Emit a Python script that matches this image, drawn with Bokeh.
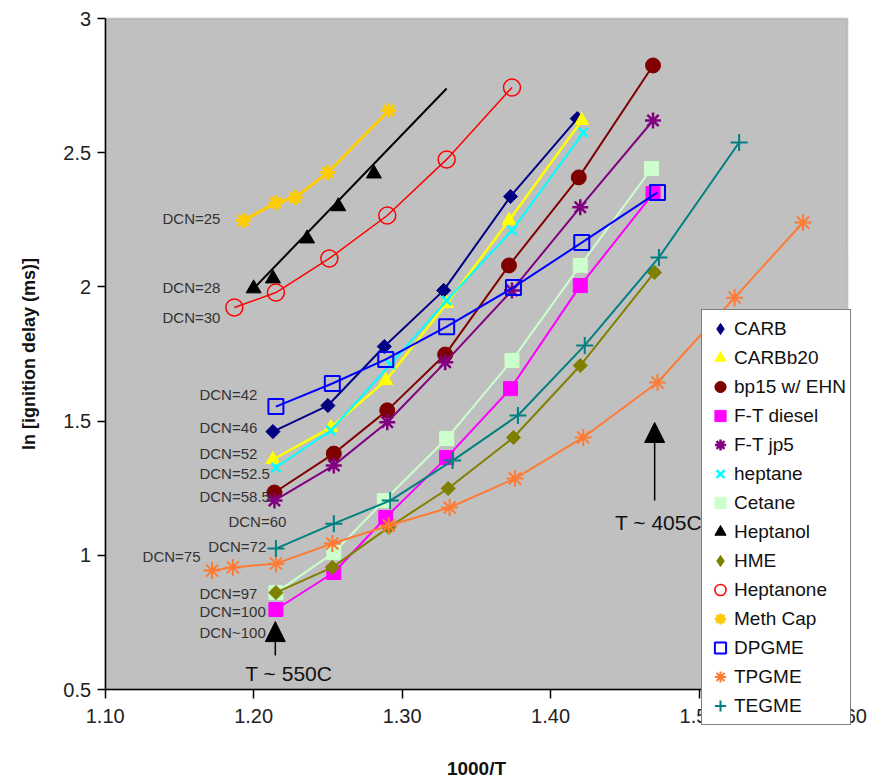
import math
from bokeh.plotting import figure
from bokeh.models import (Range1d, FixedTicker, NumeralTickFormatter, Legend, LegendItem,
                          Arrow, NormalHead, BoxAnnotation)
from bokeh.core.properties import value
from bokeh.embed import file_html
from bokeh.resources import INLINE

FONT = "Liberation Sans"

# ---------------- data ----------------
carb_x = [1.213, 1.250, 1.288, 1.328, 1.373, 1.418]
carb_y = [1.461, 1.558, 1.778, 1.987, 2.337, 2.627]

carbb20_x = [1.213, 1.252, 1.289, 1.330, 1.372, 1.421]
carbb20_y = [1.357, 1.476, 1.651, 1.938, 2.247, 2.620]

bp15_x = [1.214, 1.254, 1.290, 1.329, 1.372, 1.419, 1.469]
bp15_y = [1.234, 1.379, 1.540, 1.748, 2.080, 2.408, 2.825]

ftdiesel_x = [1.215, 1.254, 1.289, 1.330, 1.373, 1.420, 1.469]
ftdiesel_y = [0.798, 0.936, 1.141, 1.364, 1.621, 2.005, 2.348]

ftjp5_x = [1.214, 1.254, 1.290, 1.329, 1.374, 1.420, 1.469]
ftjp5_y = [1.204, 1.335, 1.496, 1.719, 1.987, 2.297, 2.620]

heptane_x = [1.215, 1.252, 1.292, 1.330, 1.374, 1.422]
heptane_y = [1.327, 1.465, 1.711, 1.949, 2.210, 2.575]

cetane_x = [1.215, 1.254, 1.288, 1.330, 1.374, 1.420, 1.468]
cetane_y = [0.861, 1.010, 1.204, 1.435, 1.726, 2.080, 2.441]

heptanol_x = [1.200, 1.213, 1.236, 1.257, 1.281]
heptanol_y = [1.994, 2.031, 2.180, 2.300, 2.422]
heptanol_trend_x = [1.200, 1.330]
heptanol_trend_y = [1.994, 2.739]

hme_x = [1.215, 1.253, 1.291, 1.331, 1.375, 1.420, 1.470]
hme_y = [0.861, 0.955, 1.104, 1.249, 1.439, 1.707, 2.054]

heptanone_x = [1.187, 1.215, 1.251, 1.290, 1.330, 1.374]
heptanone_y = [1.923, 1.979, 2.106, 2.266, 2.475, 2.743]

methcap_x = [1.193, 1.215, 1.228, 1.250, 1.291]
methcap_y = [2.247, 2.314, 2.333, 2.426, 2.657]

dpgme_x = [1.215, 1.253, 1.289, 1.330, 1.375, 1.421, 1.472]
dpgme_y = [1.554, 1.640, 1.730, 1.852, 1.998, 2.165, 2.352]

tpgme_x = [1.172, 1.186, 1.215, 1.253, 1.291, 1.332, 1.376, 1.422, 1.472, 1.524, 1.570]
tpgme_y = [0.943, 0.955, 0.969, 1.044, 1.111, 1.178, 1.286, 1.439, 1.644, 1.960, 2.240]

tegme_x = [1.215, 1.254, 1.292, 1.334, 1.378, 1.423, 1.473, 1.527]
tegme_y = [1.025, 1.118, 1.204, 1.353, 1.521, 1.782, 2.110, 2.538]

dcn_labels = ["DCN=25", "DCN=28", "DCN=30", "DCN=42", "DCN=46", "DCN=52", "DCN=52.5",
              "DCN=58.5", "DCN=60", "DCN=72", "DCN=75", "DCN=97", "DCN=100", "DCN~100"]
dcn_x = [1.1386, 1.1386, 1.1386, 1.1635, 1.1635, 1.1635, 1.1635,
         1.1635, 1.1830, 1.1695, 1.1252, 1.1635, 1.1635, 1.1635]
dcn_y = [2.255, 1.998, 1.886, 1.599, 1.476, 1.380, 1.305,
         1.219, 1.126, 1.033, 0.996, 0.858, 0.791, 0.712]

temp_labels = ["T ~ 550C", "T ~ 405C"]
temp_label_x = [1.1944, 1.4434]
temp_label_y = [0.560, 1.122]
arrow_x = [1.2146, 1.4701]
arrow_y0 = [0.627, 1.204]
arrow_y1 = [0.753, 1.495]

x_ticks = [1.10, 1.20, 1.30, 1.40, 1.50, 1.60]
y_ticks = [0.5, 1.0, 1.5, 2.0, 2.5, 3.0]
X_MIN, X_MAX = 1.10, 1.60
Y_MIN, Y_MAX = 0.5, 3.0

# ---------------- figure ----------------
# frame spans the whole canvas; the axes sit at fixed data locations
p = figure(width=873, height=783, output_backend="svg", toolbar_location=None,
           x_range=Range1d(1.0295, 1.6175), y_range=Range1d(0.1498, 3.0671),
           min_border=0, min_border_left=0, min_border_right=0,
           min_border_top=0, min_border_bottom=0)
p.background_fill_color = "white"
p.border_fill_color = "white"
p.outline_line_color = None
p.grid.visible = False

p.add_layout(BoxAnnotation(left=X_MIN, right=X_MAX, bottom=Y_MIN, top=Y_MAX,
                           fill_color="#C0C0C0", fill_alpha=1.0,
                           line_color="#808080", line_width=2, level="underlay"))

p.xaxis.fixed_location = Y_MIN
p.yaxis.fixed_location = X_MIN
p.xaxis.bounds = (X_MIN, X_MAX)
p.yaxis.bounds = (Y_MIN, Y_MAX)
p.xaxis.ticker = FixedTicker(ticks=x_ticks)
p.yaxis.ticker = FixedTicker(ticks=y_ticks)
p.xaxis.formatter = NumeralTickFormatter(format="0.00")
p.yaxis.formatter = NumeralTickFormatter(format="0.[0]")
for ax in (p.xaxis, p.yaxis):
    ax.minor_tick_line_color = None
    ax.axis_line_color = "black"
    ax.axis_line_width = 1.5
    ax.major_tick_line_color = "black"
    ax.major_tick_line_width = 1.5
    ax.major_tick_in = 0
    ax.major_label_text_font = FONT
    ax.major_label_text_font_size = "20px"
    ax.major_label_text_color = "#222222"
    ax.axis_label_text_font = FONT
    ax.axis_label_text_font_style = "bold"
    ax.axis_label_text_color = "#111111"
p.xaxis.major_tick_out = 9
p.xaxis.major_label_standoff = 10
p.yaxis.major_tick_out = 8
p.yaxis.major_label_standoff = 6
p.xaxis.axis_label = "1000/T"
p.xaxis.axis_label_text_font_size = "19px"
p.xaxis.axis_label_standoff = 32
p.yaxis.axis_label = "ln [ignition delay (ms)]"
p.yaxis.axis_label_text_font_size = "18px"
p.yaxis.axis_label_standoff = 22

series = [
    ("CARB", carb_x, carb_y, "#000080", 2, dict(marker="square", size=10, angle=math.pi / 4, fill_color="#000080", line_color="#000080")),
    ("CARBb20", carbb20_x, carbb20_y, "#FFFF00", 2.5, dict(marker="triangle", size=14, fill_color="#FFFF00", line_color="#FFFF00")),
    ("bp15 w/ EHN", bp15_x, bp15_y, "#800000", 2, dict(marker="circle", size=15, fill_color="#800000", line_color="#800000")),
    ("F-T diesel", ftdiesel_x, ftdiesel_y, "#FF00FF", 2, dict(marker="square", size=14, fill_color="#FF00FF", line_color="#FF00FF")),
    ("F-T jp5", ftjp5_x, ftjp5_y, "#800080", 2, dict(marker="asterisk", size=16, line_color="#800080", line_width=2.5)),
    ("heptane", heptane_x, heptane_y, "#00FFFF", 2, dict(marker="x", size=13, line_color="#00FFFF", line_width=2.5)),
    ("Cetane", cetane_x, cetane_y, "#CCFFCC", 2, dict(marker="square", size=14, fill_color="#CCFFCC", line_color="#CCFFCC")),
    ("Heptanol", heptanol_x, heptanol_y, "#000000", 2, dict(marker="triangle", size=15, fill_color="#000000", line_color="#000000")),
    ("HME", hme_x, hme_y, "#808000", 2, dict(marker="square", size=10, angle=math.pi / 4, fill_color="#808000", line_color="#808000")),
    ("Heptanone", heptanone_x, heptanone_y, "#FF0000", 1.5, dict(marker="circle", size=17, fill_color=None, line_color="#FF0000", line_width=1.5)),
    ("Meth Cap", methcap_x, methcap_y, "#FFCC00", 3, dict(marker="asterisk", size=15, line_color="#FFCC00", line_width=3)),
    ("DPGME", dpgme_x, dpgme_y, "#0000FF", 2, dict(marker="square", size=15, fill_color=None, line_color="#0000FF", line_width=2)),
    ("TPGME", tpgme_x, tpgme_y, "#FF7A33", 2, dict(marker="asterisk", size=17, line_color="#FF7A33", line_width=2)),
    ("TEGME", tegme_x, tegme_y, "#008080", 2, dict(marker="cross", size=17, line_color="#008080", line_width=2)),
]

items = []
for name, xs, ys, col, lw, mk in series:
    if name == "Heptanol":
        p.line(heptanol_trend_x, heptanol_trend_y, line_color=col, line_width=lw)
    else:
        p.line(xs, ys, line_color=col, line_width=lw)
    r = p.scatter(xs, ys, **mk)
    if mk.get("angle"):
        # legend markers are drawn unrotated, so give the legend a real diamond
        lr = p.scatter(xs[:1], ys[:1], marker="diamond", fill_color=col, line_color=col, visible=False)
        items.append(LegendItem(label=name, renderers=[lr]))
    else:
        items.append(LegendItem(label=name, renderers=[r]))

# DCN labels
p.text(x=dcn_x, y=dcn_y, text=dcn_labels, text_font=value(FONT), text_font_size="15px",
       text_color="#333333", text_align="left", text_baseline="middle")

# Arrows and temperature notes
for ax_, y0, y1 in zip(arrow_x, arrow_y0, arrow_y1):
    p.add_layout(Arrow(end=NormalHead(size=20, fill_color="black", line_color="black"),
                       x_start=ax_, y_start=y0, x_end=ax_, y_end=y1,
                       line_color="black", line_width=1.5))
p.text(x=temp_label_x, y=temp_label_y, text=temp_labels,
       text_font=value(FONT), text_font_size="21px", text_color="#111111",
       text_align="left", text_baseline="middle")

legend = Legend(items=items, location=(701, 58), orientation="vertical",
                background_fill_color="white", background_fill_alpha=1.0,
                border_line_color="black", border_line_width=1.5,
                label_text_font=FONT, label_text_font_size="19px", label_text_color="#111111",
                glyph_width=28, glyph_height=29, label_height=20, spacing=0,
                padding=4, margin=0, label_standoff=0)
p.add_layout(legend)

open("out.html", "w").write(file_html(p, INLINE))
